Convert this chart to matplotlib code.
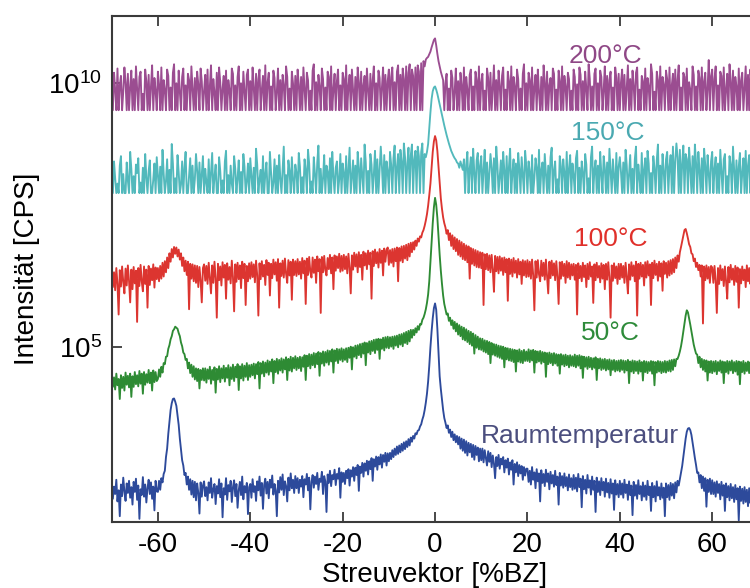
import numpy as np
import matplotlib
matplotlib.use("Agg")
import matplotlib.pyplot as plt
from matplotlib.ticker import NullLocator, FixedLocator

plt.rcParams['font.family'] = ['Liberation Sans', 'DejaVu Sans']
plt.rcParams['mathtext.fontset'] = 'custom'
plt.rcParams['mathtext.rm'] = 'Liberation Sans'

# Scattering vector range in %BZ, sampled every 0.25 %BZ
q_start, q_stop = -70.0, 70.0

# log10 of intensity [CPS] per temperature (curves offset vertically)
log_200C = [
    10.05, 9.49, 10.20, 9.88, 9.49, 10.28, 9.49, 9.96, 10.14, 9.49, 9.84, 10.30, 10.02, 9.49, 10.18, 9.49, 9.92, 10.24, 9.49, 10.08, 9.49, 10.32, 9.90, 9.49, 10.12, 10.22, 9.49, 9.80, 9.49, 10.26, 10.04, 9.49, 10.16, 9.49, 9.94, 10.34, 9.49, 10.10, 9.86, 9.49,
    10.22, 9.98, 9.49, 10.30, 9.49, 10.06, 9.88, 9.49, 10.26, 10.14, 9.49, 9.92, 9.49, 10.20, 10.36, 9.49, 10.00, 9.49, 10.24, 9.84, 9.49, 10.12, 10.28, 9.49, 9.96, 9.49, 10.18, 10.06, 9.49, 10.32, 9.90, 9.49, 10.10, 9.49, 10.22, 9.98, 9.49, 10.28, 10.04, 9.49,
    9.86, 10.16, 9.49, 10.26, 9.49, 9.94, 10.34, 9.49, 10.08, 9.82, 9.49, 10.20, 9.49, 10.30, 10.02, 9.49, 9.90, 10.14, 9.49, 10.24, 9.49, 10.06, 9.88, 9.49, 10.28, 10.18, 9.49, 9.96, 9.49, 10.12, 10.32, 9.49, 10.00, 9.49, 10.22, 9.86, 9.49, 10.16, 10.26, 9.49,
    10.04, 9.49, 10.30, 9.92, 9.49, 10.18, 9.49, 10.08, 10.26, 9.49, 9.88, 10.14, 9.49, 10.34, 9.49, 10.02, 10.20, 9.49, 9.94, 9.49, 10.24, 10.10, 9.49, 9.84, 10.28, 9.49, 10.06, 9.49, 10.16, 9.96, 9.49, 10.32, 10.12, 9.49, 9.90, 9.49, 10.22, 10.00, 9.49, 10.14,
    9.49, 10.26, 9.98, 9.49, 10.12, 9.49, 10.30, 9.90, 9.49, 10.20, 10.06, 9.49, 9.86, 9.49, 10.24, 10.36, 9.49, 10.02, 9.49, 10.16, 9.94, 9.49, 10.28, 10.08, 9.49, 9.92, 9.49, 10.22, 10.12, 9.49, 10.32, 9.49, 9.88, 10.18, 9.49, 10.04, 10.26, 9.49, 9.96, 9.49,
    10.20, 10.08, 9.49, 10.34, 9.49, 9.94, 10.16, 9.49, 10.26, 9.88, 9.49, 10.12, 9.49, 10.30, 10.02, 9.49, 10.22, 9.49, 9.96, 10.14, 9.49, 10.28, 9.90, 9.49, 10.18, 9.49, 10.06, 10.32, 9.49, 10.00, 9.49, 10.24, 10.10, 9.49, 9.92, 10.30, 9.49, 10.16, 9.49, 10.04,
    10.26, 9.49, 10.12, 10.30, 9.49, 10.02, 9.49, 10.22, 10.34, 9.49, 10.16, 9.49, 10.28, 10.08, 9.49, 10.32, 9.49, 10.20, 10.36, 9.49, 10.26, 10.14, 9.49, 10.30, 9.49, 10.34, 10.22, 9.49, 10.38, 9.49, 10.42, 10.32, 10.45, 10.48, 10.50, 10.55, 10.60, 10.68, 10.75, 10.82,
    10.85, 10.72, 10.56, 10.42, 10.32, 10.22, 10.14, 10.06, 9.49, 10.00, 10.18, 9.49, 9.90, 9.49, 10.24, 10.10, 9.49, 9.84, 10.28, 9.49, 10.04, 9.49, 10.20, 9.96, 9.49, 10.30, 9.49, 10.12, 9.88, 9.49, 10.16, 10.26, 9.49, 9.94, 9.49, 10.22, 10.06, 9.49, 10.32, 9.49,
    10.02, 10.18, 9.49, 9.86, 9.49, 10.28, 10.10, 9.49, 10.20, 9.49, 9.92, 10.34, 9.49, 10.06, 9.49, 10.24, 9.96, 9.49, 10.14, 10.30, 9.49, 9.88, 9.49, 10.22, 10.04, 9.49, 10.32, 9.49, 10.12, 9.94, 9.49, 10.26, 10.08, 9.49, 9.90, 9.49, 10.18, 10.36, 9.49, 10.00,
    9.49, 10.20, 10.06, 9.49, 10.30, 9.49, 9.92, 10.16, 9.49, 10.26, 9.84, 9.49, 10.12, 9.49, 10.34, 10.02, 9.49, 10.22, 9.49, 9.96, 10.10, 9.49, 10.28, 10.18, 9.49, 9.88, 9.49, 10.24, 10.04, 9.49, 10.32, 9.49, 10.14, 9.94, 9.49, 10.20, 10.08, 9.49, 9.86, 9.49,
    10.26, 10.12, 9.49, 9.98, 9.49, 10.30, 10.16, 9.49, 10.04, 9.49, 10.22, 9.90, 9.49, 10.36, 10.08, 9.49, 9.94, 9.49, 10.18, 10.28, 9.49, 10.00, 9.49, 10.24, 10.12, 9.49, 9.86, 10.32, 9.49, 10.14, 9.49, 10.06, 10.22, 9.49, 9.92, 9.49, 10.30, 10.10, 9.49, 10.18,
    9.49, 10.02, 10.26, 9.49, 10.16, 9.49, 9.90, 10.34, 9.49, 10.08, 9.49, 10.24, 9.96, 9.49, 10.20, 10.30, 9.49, 9.88, 9.49, 10.14, 10.04, 9.49, 10.28, 9.49, 10.10, 9.94, 9.49, 10.36, 10.18, 9.49, 9.84, 9.49, 10.22, 10.06, 9.49, 10.32, 9.49, 10.12, 9.98, 9.49,
    10.24, 10.08, 9.49, 10.30, 9.49, 9.96, 10.18, 9.49, 10.26, 9.49, 10.06, 10.34, 9.49, 9.92, 9.49, 10.20, 10.12, 9.49, 10.28, 9.49, 10.02, 9.88, 9.49, 10.32, 10.16, 9.49, 9.94, 9.49, 10.24, 10.10, 9.49, 10.30, 9.49, 10.04, 10.20, 9.49, 9.90, 10.44, 9.49, 10.14,
    10.26, 9.49, 10.08, 10.32, 9.49, 9.96, 9.49, 10.22, 10.14, 9.49, 10.30, 9.49, 9.88, 10.18, 9.49, 10.36, 10.04, 9.49, 10.24, 9.49, 10.12, 9.94, 9.49, 10.28, 9.49, 10.06, 10.20, 9.49, 9.90, 10.32, 9.49, 10.16, 9.49, 10.26, 10.02, 9.49, 10.22, 9.49, 10.10, 9.98,
    9.49,
]

log_150C = [
    8.35, 7.92, 8.52, 8.20, 7.92, 8.10, 7.92, 8.44, 8.62, 7.92, 8.28, 7.92, 7.92, 8.50, 8.16, 7.92, 8.70, 8.38, 7.92, 8.24, 7.92, 8.46, 8.30, 8.58, 7.92, 8.12, 7.92, 8.40, 7.92, 8.66, 8.22, 7.92, 8.34, 8.54, 7.92, 7.92, 8.18, 8.48, 7.92, 8.60,
    8.26, 7.92, 8.42, 7.92, 8.74, 8.30, 7.92, 8.14, 8.56, 7.92, 8.36, 7.92, 8.85, 8.48, 7.92, 8.20, 7.92, 8.64, 8.32, 7.92, 8.08, 8.52, 7.92, 8.40, 8.70, 7.92, 7.92, 8.26, 8.58, 7.92, 8.44, 7.92, 8.18, 8.66, 8.34, 7.92, 8.50, 7.92, 8.28, 8.62,
    7.92, 8.38, 8.12, 7.92, 8.56, 7.92, 8.30, 8.68, 7.92, 8.22, 8.46, 7.92, 7.92, 8.60, 8.34, 7.92, 8.16, 7.92, 8.52, 8.72, 7.92, 8.26, 7.92, 8.44, 8.10, 7.92, 8.62, 8.38, 7.92, 8.20, 8.54, 7.92, 8.32, 7.92, 8.66, 8.42, 7.92, 8.14, 8.48, 7.92,
    8.58, 8.24, 7.92, 8.40, 7.92, 8.76, 8.46, 7.92, 8.18, 8.36, 7.92, 8.62, 7.92, 8.28, 8.50, 7.92, 7.92, 8.70, 8.32, 7.92, 8.12, 8.56, 7.92, 8.44, 7.92, 8.64, 8.20, 7.92, 8.38, 8.80, 7.92, 8.26, 7.92, 8.54, 8.34, 7.92, 8.60, 8.16, 7.92, 8.46,
    8.30, 7.92, 8.68, 8.42, 7.92, 8.22, 7.92, 8.56, 8.36, 7.92, 8.74, 8.48, 7.92, 8.14, 7.92, 8.60, 8.28, 7.92, 8.50, 8.82, 7.92, 8.38, 7.92, 8.20, 8.64, 7.92, 8.44, 8.32, 7.92, 8.58, 7.92, 8.70, 8.24, 7.92, 8.40, 8.52, 7.92, 8.18, 8.66, 7.92,
    8.48, 8.30, 7.92, 8.62, 7.92, 8.36, 8.78, 7.92, 8.22, 8.54, 7.92, 8.44, 7.92, 8.70, 8.40, 7.92, 8.58, 8.26, 7.92, 8.84, 8.50, 7.92, 8.34, 7.92, 8.66, 8.46, 7.92, 8.28, 8.72, 7.92, 8.56, 7.92, 8.38, 8.80, 8.42, 7.92, 8.64, 7.92, 8.52, 8.34,
    7.92, 8.70, 8.46, 7.92, 8.58, 8.82, 7.92, 8.40, 8.66, 7.92, 8.74, 8.52, 7.92, 8.86, 8.60, 7.92, 8.48, 8.78, 7.92, 8.64, 8.84, 7.92, 8.56, 8.72, 7.92, 8.80, 8.62, 7.92, 8.70, 8.86, 7.92, 8.66, 8.60, 8.70, 8.85, 9.15, 9.45, 9.70, 9.85, 9.92,
    9.94, 9.88, 9.80, 9.70, 9.60, 9.50, 9.40, 9.30, 9.20, 9.11, 9.02, 8.94, 8.86, 8.79, 8.72, 8.67, 8.62, 8.58, 8.55, 8.50, 8.48, 8.40, 8.52, 8.44, 8.36, 8.56, 7.92, 8.46, 8.70, 7.92, 8.38, 8.60, 7.92, 8.76, 8.30, 7.92, 8.54, 8.68, 7.92, 8.44,
    8.62, 7.92, 8.36, 8.74, 7.92, 8.50, 7.92, 8.28, 8.66, 8.40, 7.92, 8.58, 7.92, 8.80, 8.46, 7.92, 8.22, 8.54, 7.92, 8.70, 8.34, 7.92, 8.62, 7.92, 8.42, 8.76, 7.92, 8.30, 8.56, 7.92, 8.48, 7.92, 8.68, 8.38, 7.92, 8.60, 8.26, 7.92, 8.72, 8.44,
    7.92, 8.52, 8.32, 7.92, 8.64, 7.92, 8.20, 8.58, 8.40, 7.92, 8.74, 7.92, 8.36, 8.50, 7.92, 8.66, 8.28, 7.92, 8.44, 7.92, 8.60, 8.78, 7.92, 8.34, 8.52, 7.92, 8.18, 7.92, 8.62, 8.42, 7.92, 8.56, 8.30, 7.92, 8.70, 7.92, 8.38, 8.64, 7.92, 8.48,
    8.26, 7.92, 8.58, 8.72, 7.92, 8.40, 7.92, 8.52, 8.30, 7.92, 8.66, 8.46, 7.92, 8.20, 7.92, 8.60, 8.80, 7.92, 8.36, 8.54, 7.92, 8.44, 7.92, 8.70, 8.28, 7.92, 8.62, 8.40, 7.92, 8.50, 7.92, 8.76, 8.34, 7.92, 8.56, 8.24, 7.92, 8.68, 7.92, 8.42,
    8.60, 8.32, 7.92, 8.50, 7.92, 8.74, 8.44, 7.92, 8.28, 8.64, 7.92, 8.38, 7.92, 8.56, 8.80, 7.92, 8.46, 8.22, 7.92, 8.68, 7.92, 8.36, 8.58, 7.92, 8.72, 8.48, 7.92, 8.30, 7.92, 8.62, 8.40, 7.92, 8.54, 8.84, 7.92, 8.44, 7.92, 8.66, 8.34, 7.92,
    8.56, 8.70, 7.92, 8.42, 8.64, 7.92, 8.80, 7.92, 8.52, 8.86, 8.60, 7.92, 8.74, 7.92, 8.48, 8.82, 7.92, 8.66, 8.56, 7.92, 8.78, 8.40, 7.92, 8.62, 7.92, 8.84, 8.50, 7.92, 8.70, 8.36, 7.92, 8.58, 7.92, 8.76, 8.44, 7.92, 8.64, 8.30, 7.92, 8.52,
    8.70, 7.92, 8.38, 8.60, 7.92, 8.48, 7.92, 8.74, 8.32, 7.92, 8.56, 8.66, 7.92, 8.24, 7.92, 8.62, 8.46, 7.92, 8.80, 8.36, 7.92, 8.54, 7.92, 8.42, 8.68, 7.92, 8.30, 8.58, 7.92, 8.72, 7.92, 8.44, 8.64, 7.92, 8.50, 8.34, 7.92, 8.76, 8.40, 7.92,
    8.28,
]

log_100C = [
    6.48, 6.14, 6.42, 6.08, 6.50, 6.20, 5.62, 6.46, 6.15, 6.53, 6.24, 6.02, 6.49, 6.17, 6.55, 6.26, 5.85, 6.47, 6.10, 6.52, 6.21, 6.45, 5.48, 6.50, 6.16, 6.56, 6.25, 6.06, 6.53, 6.20, 6.47, 5.75, 6.54, 6.18, 6.49, 6.27, 6.57, 6.13, 6.51, 6.29,
    6.50, 6.25, 6.54, 6.30, 6.60, 6.34, 6.63, 6.42, 6.70, 6.50, 6.78, 6.62, 6.86, 6.70, 6.90, 6.77, 6.89, 6.72, 6.85, 6.66, 6.78, 6.54, 6.70, 6.44, 6.64, 6.37, 6.62, 5.72, 6.58, 6.30, 6.57, 6.25, 6.55, 6.22, 6.54, 6.14, 6.52, 6.26, 5.85, 6.50,
    6.57, 6.26, 6.54, 6.20, 6.60, 6.30, 6.02, 6.55, 6.22, 6.62, 6.31, 5.56, 6.58, 6.27, 6.53, 6.17, 6.61, 6.32, 6.56, 5.92, 6.59, 6.28, 6.52, 6.21, 6.64, 6.33, 5.68, 6.57, 6.24, 6.60, 6.29, 6.55, 6.12, 6.62, 6.31, 6.58, 5.80, 6.54, 6.25, 6.59,
    6.30, 6.61, 6.33, 6.57, 6.23, 6.64, 6.36, 5.60, 6.59, 6.29, 6.63, 6.34, 6.56, 6.18, 6.65, 6.37, 6.60, 5.98, 6.58, 6.31, 6.66, 6.38, 6.61, 6.26, 6.67, 5.75, 6.59, 6.35, 6.64, 6.32, 6.68, 6.39, 6.22, 6.65, 6.36, 6.62, 5.90, 6.66, 6.37, 6.63,
    6.35, 6.67, 6.38, 6.62, 6.30, 6.69, 6.40, 6.64, 5.82, 6.68, 6.37, 6.71, 6.43, 6.32, 6.70, 6.41, 6.66, 6.22, 6.72, 6.44, 6.67, 5.65, 6.71, 6.42, 6.73, 6.46, 6.36, 6.69, 6.48, 6.75, 6.40, 6.70, 6.10, 6.74, 6.45, 6.72, 6.50, 6.77, 6.43, 6.73,
    6.45, 6.75, 6.48, 6.72, 6.40, 6.77, 6.51, 6.02, 6.74, 6.47, 6.79, 6.53, 6.76, 6.42, 6.80, 6.52, 6.75, 6.28, 6.81, 6.55, 6.78, 6.48, 6.83, 6.57, 6.79, 5.92, 6.82, 6.54, 6.85, 6.59, 6.80, 6.51, 6.86, 6.60, 6.83, 6.36, 6.87, 6.62, 6.84, 6.89,
    6.56, 6.84, 6.60, 6.86, 6.53, 6.87, 6.63, 6.89, 6.25, 6.88, 6.64, 6.91, 6.61, 6.92, 6.68, 6.94, 6.65, 6.96, 6.72, 6.98, 6.80, 6.99, 6.85, 7.02, 6.92, 7.06, 7.00, 7.10, 7.08, 7.17, 7.22, 7.30, 7.40, 7.52, 7.68, 7.88, 8.10, 8.40, 8.70, 8.90,
    9.00, 8.92, 8.72, 8.42, 8.10, 7.82, 7.62, 7.46, 7.35, 7.27, 7.15, 7.22, 7.03, 7.16, 6.92, 7.12, 6.86, 7.08, 6.82, 7.05, 6.75, 7.02, 6.72, 6.99, 6.67, 6.96, 6.65, 6.93, 6.61, 6.91, 6.30, 6.88, 6.58, 6.86, 6.55, 6.84, 6.52, 6.82, 6.51, 6.80,
    6.50, 6.79, 5.80, 6.76, 6.48, 6.77, 6.46, 6.74, 6.42, 6.75, 6.47, 6.05, 6.73, 6.44, 6.71, 6.40, 6.72, 6.45, 6.69, 6.37, 6.70, 6.42, 6.67, 5.88, 6.68, 6.39, 6.66, 6.34, 6.69, 6.41, 6.64, 6.32, 6.67, 6.38, 6.62, 6.20, 6.65, 6.36, 6.63, 6.33,
    6.65, 6.34, 6.62, 6.30, 6.66, 6.36, 5.70, 6.63, 6.32, 6.65, 6.38, 6.25, 6.64, 6.35, 6.60, 6.28, 6.66, 6.34, 6.02, 6.62, 6.31, 6.64, 6.36, 6.59, 6.27, 6.63, 6.33, 5.82, 6.61, 6.30, 6.62, 6.35, 6.58, 6.22, 6.63, 6.32, 6.60, 6.29, 6.57, 6.36,
    6.58, 6.28, 6.56, 5.62, 6.59, 6.31, 6.54, 6.25, 6.60, 6.33, 6.55, 6.14, 6.58, 6.29, 6.61, 6.34, 6.53, 5.84, 6.57, 6.27, 6.60, 6.32, 6.54, 6.23, 6.59, 6.30, 6.56, 6.10, 6.58, 6.28, 6.61, 6.33, 5.56, 6.55, 6.26, 6.59, 6.31, 6.53, 6.20, 6.58,
    6.29, 6.58, 6.32, 6.54, 6.22, 6.60, 6.33, 6.02, 6.57, 6.28, 6.61, 6.35, 6.55, 6.25, 6.62, 5.60, 6.58, 6.30, 6.60, 6.34, 6.56, 6.17, 6.61, 6.32, 6.63, 6.36, 6.57, 5.80, 6.60, 6.31, 6.64, 6.37, 6.58, 6.26, 6.62, 6.34, 6.59, 6.07, 6.63, 6.39,
    6.60, 6.32, 6.63, 6.36, 6.65, 6.39, 6.67, 6.42, 6.70, 6.50, 6.74, 6.62, 6.80, 6.90, 7.01, 7.12, 7.22, 7.24, 7.16, 7.06, 6.95, 6.90, 6.78, 6.76, 6.63, 6.68, 6.52, 6.60, 6.46, 6.56, 6.34, 6.55, 5.45, 6.53, 6.27, 6.55, 6.30, 6.52, 6.22, 6.54,
    6.51, 6.22, 6.54, 6.26, 5.65, 6.50, 6.20, 6.55, 6.27, 6.48, 6.16, 6.53, 6.25, 5.92, 6.52, 6.23, 6.56, 6.28, 6.49, 6.18, 6.54, 6.24, 6.51, 5.75, 6.48, 6.21, 6.53, 6.27, 6.47, 6.14, 6.55, 6.25, 6.50, 6.20, 6.52, 5.50, 6.49, 6.22, 6.54, 6.26,
    6.38,
]

log_50C = [
    4.48, 4.25, 4.43, 4.20, 4.50, 4.28, 4.40, 4.02, 4.47, 4.23, 4.44, 4.18, 4.52, 4.29, 4.46, 4.24, 4.50, 4.06, 4.45, 4.25, 4.53, 4.30, 4.47, 4.26, 4.55, 4.31, 4.50, 4.12, 4.53, 4.29, 4.49, 4.33, 4.57, 4.32, 4.52, 4.18, 4.56, 4.34, 4.53, 4.36,
    4.40, 4.58, 4.44, 4.63, 4.52, 4.70, 4.68, 4.82, 4.83, 4.97, 5.04, 5.15, 5.21, 5.31, 5.34, 5.39, 5.37, 5.35, 5.27, 5.21, 5.09, 5.02, 4.90, 4.87, 4.76, 4.78, 4.60, 4.71, 4.51, 4.67, 4.44, 4.64, 4.39, 4.60, 4.36, 4.59, 4.22, 4.57, 4.38, 4.60,
    4.37, 4.60, 4.33, 4.58, 4.40, 4.63, 4.31, 4.57, 4.38, 4.62, 4.14, 4.59, 4.39, 4.64, 4.34, 4.60, 4.41, 4.65, 4.35, 4.61, 4.42, 4.66, 4.28, 4.62, 4.40, 4.67, 4.36, 4.63, 4.43, 4.68, 4.19, 4.64, 4.41, 4.68, 4.37, 4.65, 4.44, 4.70, 4.38, 4.66,
    4.44, 4.67, 4.47, 4.69, 4.41, 4.68, 4.49, 4.72, 4.22, 4.70, 4.50, 4.73, 4.45, 4.71, 4.52, 4.75, 4.48, 4.73, 4.54, 4.77, 4.32, 4.74, 4.53, 4.78, 4.50, 4.76, 4.56, 4.79, 4.52, 4.77, 4.58, 4.81, 4.38, 4.78, 4.56, 4.82, 4.54, 4.80, 4.60, 4.83,
    4.57, 4.80, 4.60, 4.82, 4.55, 4.81, 4.63, 4.85, 4.38, 4.84, 4.64, 4.87, 4.60, 4.86, 4.66, 4.89, 4.62, 4.88, 4.68, 4.91, 4.46, 4.89, 4.69, 4.92, 4.65, 4.91, 4.71, 4.94, 4.67, 4.93, 4.73, 4.96, 4.52, 4.94, 4.74, 4.97, 4.70, 4.96, 4.76, 4.98,
    4.73, 4.96, 4.76, 4.98, 4.72, 4.99, 4.80, 5.01, 4.58, 5.00, 4.82, 5.03, 4.79, 5.04, 4.85, 5.06, 4.81, 5.07, 4.88, 5.09, 4.66, 5.08, 4.90, 5.11, 4.87, 5.12, 4.93, 5.14, 4.89, 5.15, 4.95, 5.16, 4.78, 5.15, 4.97, 5.18, 4.94, 5.19, 4.99, 5.20,
    4.98, 5.19, 5.01, 5.20, 4.97, 5.21, 5.03, 5.22, 5.00, 5.24, 5.05, 5.25, 5.02, 5.27, 5.08, 5.29, 5.06, 5.31, 5.11, 5.33, 5.18, 5.33, 5.23, 5.36, 5.28, 5.40, 5.33, 5.44, 5.43, 5.52, 5.56, 5.63, 5.72, 5.84, 6.00, 6.25, 6.60, 6.98, 7.35, 7.65,
    7.83, 7.70, 7.45, 7.10, 6.75, 6.45, 6.20, 5.98, 5.82, 5.72, 5.62, 5.64, 5.50, 5.56, 5.42, 5.51, 5.35, 5.48, 5.30, 5.45, 5.24, 5.42, 5.21, 5.39, 5.15, 5.37, 5.13, 5.34, 5.10, 5.31, 5.06, 5.29, 5.03, 5.26, 4.88, 5.23, 4.99, 5.20, 4.96, 5.17,
    4.95, 5.16, 4.92, 5.13, 4.90, 5.12, 4.87, 5.10, 4.70, 5.08, 4.86, 5.06, 4.84, 5.05, 4.82, 5.03, 4.80, 5.02, 4.78, 5.01, 4.62, 4.99, 4.77, 4.98, 4.75, 4.97, 4.74, 4.96, 4.72, 4.95, 4.54, 4.94, 4.73, 4.96, 4.71, 4.93, 4.70, 4.95, 4.74, 4.92,
    4.74, 4.96, 4.72, 4.94, 4.75, 4.95, 4.52, 4.93, 4.71, 4.92, 4.73, 4.93, 4.69, 4.91, 4.72, 4.90, 4.44, 4.89, 4.68, 4.90, 4.70, 4.88, 4.66, 4.89, 4.69, 4.87, 4.65, 4.86, 4.50, 4.87, 4.67, 4.85, 4.64, 4.86, 4.66, 4.84, 4.62, 4.85, 4.65, 4.83,
    4.64, 4.86, 4.62, 4.84, 4.65, 4.85, 4.60, 4.83, 4.42, 4.82, 4.63, 4.81, 4.59, 4.82, 4.62, 4.80, 4.58, 4.79, 4.61, 4.81, 4.38, 4.78, 4.60, 4.79, 4.57, 4.77, 4.59, 4.78, 4.56, 4.76, 4.58, 4.77, 4.47, 4.75, 4.57, 4.76, 4.54, 4.74, 4.56, 4.75,
    4.54, 4.76, 4.57, 4.75, 4.52, 4.74, 4.56, 4.76, 4.32, 4.73, 4.54, 4.75, 4.51, 4.74, 4.55, 4.73, 4.50, 4.75, 4.54, 4.72, 4.37, 4.74, 4.53, 4.73, 4.51, 4.72, 4.55, 4.74, 4.50, 4.73, 4.28, 4.72, 4.52, 4.74, 4.54, 4.73, 4.51, 4.72, 4.53, 4.74,
    4.52, 4.73, 4.55, 4.75, 4.54, 4.76, 4.57, 4.77, 4.64, 4.78, 4.78, 4.84, 4.92, 5.02, 5.15, 5.30, 5.45, 5.60, 5.70, 5.66, 5.55, 5.43, 5.30, 5.17, 5.05, 4.96, 4.88, 4.86, 4.70, 4.82, 4.62, 4.78, 4.57, 4.76, 4.54, 4.75, 4.37, 4.73, 4.52, 4.74,
    4.51, 4.73, 4.54, 4.74, 4.49, 4.72, 4.55, 4.75, 4.52, 4.73, 4.32, 4.72, 4.53, 4.74, 4.50, 4.73, 4.56, 4.75, 4.51, 4.72, 4.54, 4.74, 4.48, 4.73, 4.30, 4.72, 4.53, 4.74, 4.50, 4.71, 4.55, 4.73, 4.51, 4.72, 4.49, 4.74, 4.54, 4.71, 4.34, 4.70,
    4.61,
]

log_raum = [
    2.44, 2.13, 2.36, 2.22, 2.49, 2.08, 2.29, 1.80, 2.40, 2.18, 2.53, 2.27, 2.09, 2.42, 2.24, 2.47, 2.15, 2.35, 2.02, 2.45, 2.26, 2.51, 2.11, 2.38, 1.75, 2.31, 2.20, 2.54, 2.17, 2.40, 2.06, 2.33, 2.49, 2.22, 2.44, 2.13, 2.36, 1.91, 2.47, 2.27,
    2.26, 2.47, 2.30, 2.52, 2.44, 2.60, 2.66, 2.92, 3.08, 3.36, 3.59, 3.81, 3.94, 4.02, 4.03, 3.97, 3.89, 3.71, 3.53, 3.27, 3.06, 2.86, 2.76, 2.58, 2.62, 2.40, 2.55, 2.30, 2.50, 2.21, 2.47, 2.16, 2.45, 2.10, 2.42, 2.24, 1.85, 2.44, 2.17, 2.38,
    2.46, 2.18, 2.35, 2.10, 2.44, 2.24, 2.52, 2.15, 2.31, 2.41, 2.03, 2.37, 2.23, 2.50, 2.16, 2.42, 1.78, 2.33, 2.21, 2.52, 2.11, 2.39, 2.27, 2.47, 2.07, 2.35, 2.48, 2.18, 2.41, 1.96, 2.29, 2.45, 2.20, 2.55, 2.12, 2.37, 2.25, 2.43, 1.84, 2.35,
    2.41, 2.15, 2.50, 2.26, 2.37, 2.09, 2.46, 2.29, 2.55, 2.19, 2.43, 1.94, 2.39, 2.51, 2.23, 2.45, 2.14, 2.49, 2.34, 2.57, 2.21, 2.41, 2.29, 1.80, 2.47, 2.25, 2.54, 2.30, 2.59, 2.20, 2.46, 2.37, 2.08, 2.53, 2.29, 2.61, 2.33, 2.49, 2.24, 2.56,
    2.33, 2.52, 2.24, 2.49, 2.36, 2.56, 2.16, 2.50, 2.40, 2.60, 2.29, 2.53, 1.93, 2.45, 2.58, 2.34, 2.55, 2.41, 2.62, 2.30, 2.51, 2.45, 2.64, 2.22, 2.56, 2.46, 1.88, 2.59, 2.43, 2.66, 2.37, 2.58, 2.50, 2.68, 2.39, 2.60, 2.51, 2.71, 2.15, 2.63,
    2.45, 2.62, 2.41, 2.66, 2.52, 2.69, 2.38, 2.67, 2.55, 2.73, 2.47, 2.72, 2.58, 2.77, 2.28, 2.74, 2.62, 2.81, 2.55, 2.80, 2.66, 2.85, 2.59, 2.84, 2.69, 2.90, 2.47, 2.88, 2.74, 2.93, 2.68, 2.92, 2.78, 2.97, 2.72, 2.96, 2.83, 3.00, 2.76, 2.99,
    2.84, 3.00, 2.88, 3.05, 2.92, 3.08, 2.96, 3.12, 2.98, 3.14, 3.01, 3.17, 3.04, 3.20, 3.07, 3.22, 3.11, 3.26, 3.14, 3.29, 3.21, 3.32, 3.27, 3.37, 3.35, 3.42, 3.43, 3.50, 3.54, 3.63, 3.70, 3.81, 3.95, 4.12, 4.35, 4.65, 5.00, 5.30, 5.55, 5.74,
    5.83, 5.71, 5.35, 4.90, 4.45, 4.21, 4.00, 3.81, 3.66, 3.57, 3.47, 3.52, 3.38, 3.44, 3.30, 3.40, 3.24, 3.35, 3.20, 3.32, 3.16, 3.30, 3.08, 3.27, 3.04, 3.25, 3.00, 3.22, 2.95, 3.19, 3.01, 3.17, 2.92, 3.15, 2.87, 3.13, 2.96, 3.10, 2.84, 3.08,
    2.86, 3.08, 2.82, 3.05, 2.90, 2.76, 3.03, 2.83, 3.00, 2.73, 2.95, 2.80, 2.52, 2.92, 2.75, 2.96, 2.70, 2.89, 2.78, 2.92, 2.63, 2.86, 2.72, 2.89, 2.59, 2.82, 2.68, 2.86, 2.40, 2.79, 2.63, 2.82, 2.56, 2.77, 2.61, 2.75, 2.49, 2.73, 2.57, 2.70,
    2.70, 2.45, 2.66, 2.40, 2.73, 2.49, 2.63, 2.33, 2.69, 2.46, 2.61, 2.08, 2.67, 2.43, 2.60, 2.37, 2.68, 2.45, 2.61, 2.31, 2.64, 2.42, 2.58, 2.36, 2.66, 2.39, 2.55, 2.02, 2.62, 2.38, 2.56, 2.34, 2.61, 2.37, 2.54, 2.29, 2.59, 2.35, 2.52, 2.30,
    2.58, 2.32, 2.53, 2.27, 2.60, 2.35, 2.51, 1.97, 2.56, 2.31, 2.49, 2.23, 2.58, 2.34, 2.48, 2.21, 2.55, 2.30, 2.47, 1.88, 2.53, 2.26, 2.46, 2.20, 2.52, 2.29, 2.45, 2.17, 2.51, 2.25, 2.43, 2.15, 2.50, 2.23, 2.42, 1.92, 2.48, 2.21, 2.41, 2.16,
    2.47, 2.21, 2.42, 2.15, 2.49, 2.24, 2.40, 2.11, 2.46, 2.20, 2.38, 1.82, 2.45, 2.19, 2.39, 2.13, 2.48, 2.22, 2.37, 2.10, 2.44, 2.17, 2.38, 2.11, 2.47, 2.20, 2.36, 1.90, 2.43, 2.16, 2.37, 2.08, 2.46, 2.19, 2.35, 2.12, 2.42, 2.15, 2.34, 1.80,
    2.42, 2.16, 2.39, 2.11, 2.43, 2.19, 2.41, 2.14, 2.44, 2.25, 2.47, 2.38, 2.50, 2.61, 2.75, 2.92, 3.10, 3.27, 3.40, 3.46, 3.47, 3.43, 3.34, 3.20, 3.05, 2.90, 2.77, 2.62, 2.63, 2.44, 2.58, 2.33, 2.55, 2.28, 2.52, 1.98, 2.49, 2.26, 2.51, 2.22,
    2.48, 2.22, 2.44, 2.17, 2.46, 2.24, 2.41, 2.12, 2.45, 2.19, 2.39, 1.90, 2.42, 2.16, 2.37, 2.10, 2.41, 2.14, 2.35, 2.07, 2.39, 2.12, 2.33, 1.72, 2.36, 2.09, 2.32, 2.04, 2.35, 2.07, 2.30, 1.99, 2.33, 2.05, 2.27, 1.68, 2.31, 2.02, 2.25, 1.98,
    2.15,
]

series_labels = ["200°C", "150°C", "100°C", "50°C", "Raumtemperatur"]
line_colors = ["#9b4d91", "#52b9bc", "#dc3530", "#2e8b34", "#2d4a9b"]
text_colors = ["#8f4886", "#4aa9b1", "#e0302a", "#2e8b3a", "#4b4e7e"]
# label anchor: q in %BZ and log10 intensity of the text baseline
label_q = [36.8, 37.3, 38.1, 37.9, 31.4]
label_log = [10.38, 8.92, 6.92, 5.14, 3.19]

y_ticks = [1e5, 1e10]
y_ticklabels = [r"$\mathregular{10^{5}}$", r"$\mathregular{10^{10}}$"]
x_ticks = [-60, -40, -20, 0, 20, 40, 60]

curves = [log_200C, log_150C, log_100C, log_50C, log_raum]
lengths = [len(c) for c in curves]
if len(set(lengths)) != 1:
    raise ValueError(f"curve lengths differ: {lengths}")

fig = plt.figure(figsize=(7.5, 5.88), dpi=100)
W, H = 750.0, 588.0
left, right, top, bottom = 111.7, 758.4, 15.7, 522.0
ax = fig.add_axes([left / W, 1 - bottom / H, (right - left) / W, (bottom - top) / H])

for vals, col in zip(curves, line_colors):
    vals = np.asarray(vals)
    q = np.linspace(q_start, q_stop, len(vals))
    ax.plot(q, 10.0 ** vals, color=col, lw=1.35)

for lab, qx, ly, tc in zip(series_labels, label_q, label_log, text_colors):
    ax.text(qx, 10.0 ** ly, lab, color=tc, fontsize=19, ha='center', va='baseline')

ax.set_xlim(q_start, q_stop)
ax.set_yscale('log')
ax.set_ylim(10 ** 1.69, 10 ** 11.28)
ax.yaxis.set_major_locator(FixedLocator(y_ticks))
ax.yaxis.set_minor_locator(NullLocator())
ax.set_yticklabels(y_ticklabels)
ax.set_xticks(x_ticks)
ax.set_xticklabels([str(t) for t in x_ticks])

for s in ax.spines.values():
    s.set_color('#3a3a3a')
    s.set_linewidth(1.5)
ax.tick_params(direction='in', length=7, width=1.3, color='#3a3a3a',
               top=True, right=False, labelsize=20, pad=7)

ax.set_xlabel("Streuvektor [%BZ]", fontsize=20, labelpad=3)
ax.set_ylabel("Intensität [CPS]", fontsize=20)
ax.yaxis.set_label_coords(-0.111, 0.5)

fig.savefig("out.png", dpi=100)
